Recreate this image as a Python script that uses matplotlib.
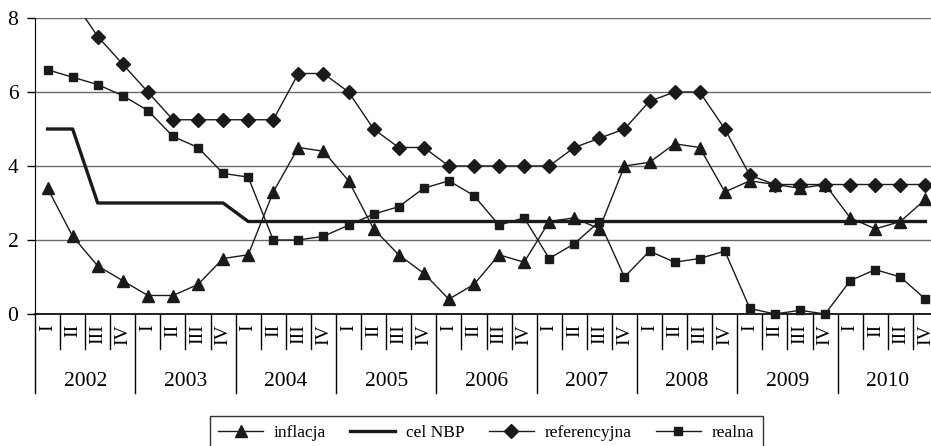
import matplotlib
matplotlib.use("Agg")
import matplotlib.pyplot as plt
from matplotlib.lines import Line2D

plt.rcParams['font.family'] = ['Liberation Serif', 'DejaVu Serif']

years = ['2002', '2003', '2004', '2005', '2006', '2007', '2008', '2009', '2010']
quarters = ['I', 'II', 'III', 'IV']

inflacja = [3.4, 2.1, 1.3, 0.9,
            0.5, 0.5, 0.8, 1.5,
            1.6, 3.3, 4.5, 4.4,
            3.6, 2.3, 1.6, 1.1,
            0.4, 0.8, 1.6, 1.4,
            2.5, 2.6, 2.3, 4.0,
            4.1, 4.6, 4.5, 3.3,
            3.6, 3.5, 3.4, 3.5,
            2.6, 2.3, 2.5, 3.1]

cel_nbp = [5.0, 5.0, 3.0, 3.0,
           3.0, 3.0, 3.0, 3.0,
           2.5, 2.5, 2.5, 2.5,
           2.5, 2.5, 2.5, 2.5,
           2.5, 2.5, 2.5, 2.5,
           2.5, 2.5, 2.5, 2.5,
           2.5, 2.5, 2.5, 2.5,
           2.5, 2.5, 2.5, 2.5,
           2.5, 2.5, 2.5, 2.5]

referencyjna = [10.0, 8.5, 7.5, 6.75,
                6.0, 5.25, 5.25, 5.25,
                5.25, 5.25, 6.5, 6.5,
                6.0, 5.0, 4.5, 4.5,
                4.0, 4.0, 4.0, 4.0,
                4.0, 4.5, 4.75, 5.0,
                5.75, 6.0, 6.0, 5.0,
                3.75, 3.5, 3.5, 3.5,
                3.5, 3.5, 3.5, 3.5]

realna = [6.6, 6.4, 6.2, 5.9,
          5.5, 4.8, 4.5, 3.8,
          3.7, 2.0, 2.0, 2.1,
          2.4, 2.7, 2.9, 3.4,
          3.6, 3.2, 2.4, 2.6,
          1.5, 1.9, 2.5, 1.0,
          1.7, 1.4, 1.5, 1.7,
          0.15, 0.0, 0.1, 0.0,
          0.9, 1.2, 1.0, 0.4]

W, H = 931, 446
fig = plt.figure(figsize=(W / 100, H / 100), dpi=100)
# plot area runs a bit past the right edge, as in the source
left, right, top, bottom = 35, 938, 18, 314
ax = fig.add_axes([left / W, 1 - bottom / H, (right - left) / W, (bottom - top) / H])
ax_h = bottom - top

n = len(years) * len(quarters)
x = list(range(n))
col = '#1a1a1a'

ax.plot(x, inflacja, color=col, lw=1.0, marker='^', ms=8, clip_on=False, zorder=4, label='inflacja')
ax.plot(x, cel_nbp, color=col, lw=2.4, zorder=3, label='cel NBP')
ax.plot(x, referencyjna, color=col, lw=1.0, marker='D', ms=7, zorder=4, label='referencyjna')
ax.plot(x, realna, color=col, lw=1.0, marker='s', ms=6, clip_on=False, zorder=4, label='realna')

ax.set_xlim(-0.5, n - 0.5)
ax.set_ylim(0, 8)
ax.set_yticks([0, 2, 4, 6, 8])
ax.tick_params(axis='y', direction='out', length=6, width=1, labelsize=15.5, pad=6)
ax.set_xticks([])
ax.yaxis.grid(True, color='#6a6a6a', lw=1.0)
ax.set_axisbelow(True)
for s in ['top', 'right']:
    ax.spines[s].set_visible(False)
ax.spines['left'].set_color('black')
ax.spines['bottom'].set_color('black')
ax.spines['bottom'].set_linewidth(1.2)

tr = ax.get_xaxis_transform()
q_top = -10 / ax_h
q_sep = -35 / ax_h
y_sep = -79 / ax_h
y_lab = -67 / ax_h

for i in range(n):
    ax.text(i, q_top, quarters[i % 4], transform=tr, rotation=90,
            ha='center', va='top', fontsize=14)
for k in range(n + 1):
    y_end = y_sep if k % 4 == 0 else q_sep
    ax.add_line(Line2D([k - 0.5, k - 0.5], [0, y_end], transform=tr,
                       color='black', lw=1.0, clip_on=False))
for j, yr in enumerate(years):
    ax.text(4 * j + 1.5, y_lab, yr, transform=tr, ha='center', va='center', fontsize=15.5)

leg = fig.legend(loc='upper center', bbox_to_anchor=(486 / W, 1 - 416 / H),
                 ncol=4, fontsize=12.5, frameon=True, fancybox=False,
                 handlelength=2.6, handletextpad=0.6, columnspacing=1.4,
                 borderpad=0.5, borderaxespad=0, edgecolor='black')
leg.get_frame().set_linewidth(1.0)

fig.savefig('out.png', dpi=100)
